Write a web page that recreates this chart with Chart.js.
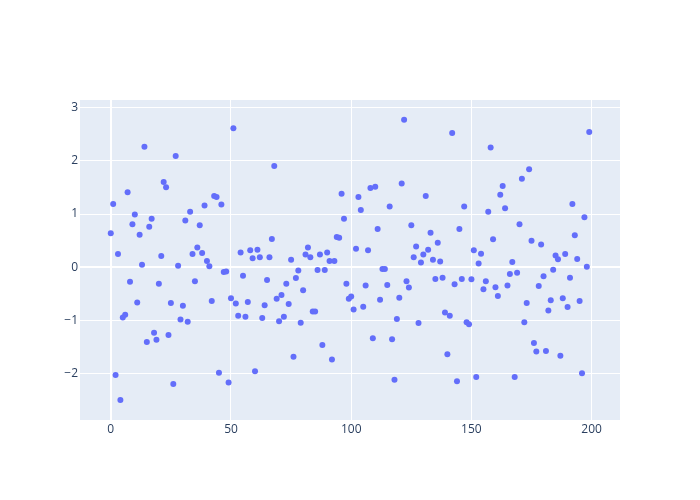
<!DOCTYPE html>
<html>
<head>
<meta charset="utf-8">
<script src="https://cdn.jsdelivr.net/npm/chart.js@4"></script>
<style>
  html, body { margin: 0; padding: 0; background: #ffffff; }
  #chart { display: block; }
</style>
</head>
<body>
<canvas id="chart" width="700" height="500"></canvas>
<script>
// y values, one per index 0..199
const yValues = [
  0.64, 1.19, -2.02, 0.25, -2.49, -0.94, -0.89, 1.41, -0.27, 0.81,
  0.99, -0.66, 0.61, 0.05, 2.26, -1.40, 0.76, 0.91, -1.23, -1.36,
  -0.31, 0.21, 1.60, 1.50, -1.27, -0.67, -2.19, 2.09, 0.03, -0.98,
  -0.72, 0.88, -1.02, 1.04, 0.25, -0.26, 0.37, 0.79, 0.27, 1.16,
  0.12, 0.02, -0.63, 1.34, 1.32, -1.98, 1.18, -0.09, -0.08, -2.16,
  -0.58, 2.61, -0.68, -0.91, 0.28, -0.16, -0.93, -0.65, 0.32, 0.17,
  -1.95, 0.33, 0.19, -0.95, -0.71, -0.24, 0.19, 0.53, 1.90, -0.59,
  -1.01, -0.52, -0.93, -0.31, -0.69, 0.14, -1.68, -0.20, -0.06, -1.04,
  -0.43, 0.24, 0.37, 0.19, -0.83, -0.83, -0.05, 0.24, -1.46, -0.05,
  0.28, 0.12, -1.73, 0.12, 0.57, 0.555, 1.38, 0.91, -0.31, -0.59,
  -0.55, -0.79, 0.35, 1.32, 1.075, -0.74, -0.34, 0.32, 1.49, -1.33,
  1.51, 0.72, -0.61, -0.03, -0.03, -0.33, 1.14, -1.35, -2.11, -0.97,
  -0.57, 1.57, 2.77, -0.26, -0.38, 0.79, 0.19, 0.39, -1.045, 0.09,
  0.24, 1.34, 0.33, 0.65, 0.14, -0.22, 0.46, 0.11, -0.195, -0.85,
  -1.63, -0.91, 2.52, -0.32, -2.14, 0.72, -0.22, 1.14, -1.03, -1.07,
  -0.225, 0.32, -2.06, 0.07, 0.255, -0.41, -0.26, 1.04, 2.25, 0.525,
  -0.375, -0.54, 1.36, 1.525, 1.11, -0.34, -0.125, 0.10, -2.06, -0.10,
  0.81, 1.66, -1.03, -0.67, 1.84, 0.50, -1.42, -1.58, -0.35, 0.43,
  -0.17, -1.57, -0.81, -0.62, -0.045, 0.22, 0.15, -1.66, -0.58, 0.25,
  -0.745, -0.195, 1.19, 0.60, 0.155, -0.63, -1.99, 0.94, 0.01, 2.54
];

// tick labels
const xTicks = [0, 50, 100, 150, 200];
const yTicks = [-2, -1, 0, 1, 2, 3];

const points = yValues.map((y, i) => ({ x: i, y: y }));

const fontColor = '#2a3f5f';

// plot area background
const plotBg = {
  id: 'plotBg',
  beforeDraw(chart) {
    const ctx = chart.ctx;
    const a = chart.chartArea;
    ctx.save();
    ctx.fillStyle = '#ffffff';
    ctx.fillRect(0, 0, chart.width, chart.height);
    ctx.fillStyle = '#e5ecf6';
    ctx.fillRect(a.left, a.top, a.right - a.left, a.bottom - a.top);
    ctx.restore();
  }
};

const gridWidth = (c) => (c.tick && c.tick.value === 0 ? 2 : 1);
const fmt = (v) => (v < 0 ? '\u2212' + Math.abs(v) : String(v));

new Chart(document.getElementById('chart'), {
  type: 'scatter',
  data: {
    datasets: [{
      data: points,
      backgroundColor: '#636efa',
      borderWidth: 0,
      pointRadius: 3,
      pointHoverRadius: 3
    }]
  },
  options: {
    responsive: false,
    animation: false,
    devicePixelRatio: 1,
    layout: { padding: { top: 100, right: 80, left: 0, bottom: 0 } },
    plugins: {
      legend: { display: false },
      tooltip: { enabled: false }
    },
    scales: {
      x: {
        type: 'linear',
        min: -12.8,
        max: 211.8,
        afterBuildTicks: (s) => { s.ticks = xTicks.map(v => ({ value: v })); },
        afterFit: (s) => { s.height = 80; },
        grid: { color: '#ffffff', lineWidth: gridWidth, drawTicks: false },
        border: { display: false },
        ticks: {
          padding: 2,
          color: fontColor,
          font: { family: '"Open Sans", sans-serif', size: 12 },
          maxRotation: 0,
          callback: fmt
        }
      },
      y: {
        type: 'linear',
        min: -2.865,
        max: 3.139,
        afterBuildTicks: (s) => { s.ticks = yTicks.map(v => ({ value: v })); },
        afterFit: (s) => { s.width = 80; },
        grid: { color: '#ffffff', lineWidth: gridWidth, drawTicks: false },
        border: { display: false },
        ticks: {
          padding: 2,
          color: fontColor,
          font: { family: '"Open Sans", sans-serif', size: 12 },
          callback: fmt
        }
      }
    }
  },
  plugins: [plotBg]
});
</script>
</body>
</html>
